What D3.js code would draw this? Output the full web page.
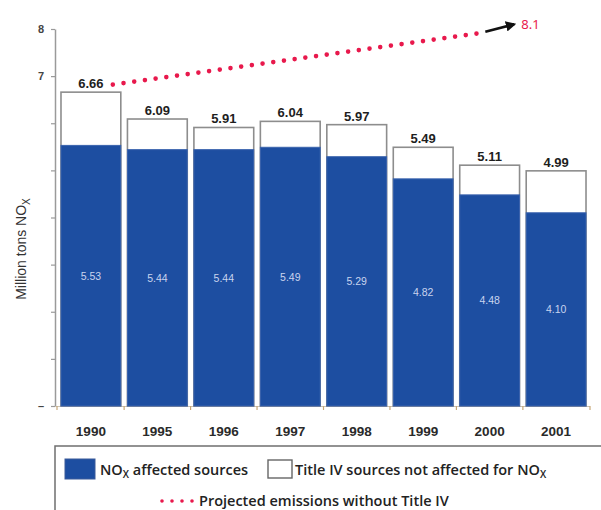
<!DOCTYPE html>
<html>
<head>
<meta charset="utf-8">
<script src="https://cdn.jsdelivr.net/npm/d3@7/dist/d3.min.js"></script>
<style>
  html, body { margin: 0; padding: 0; background: #fff; }
  svg { display: block; }
</style>
</head>
<body>
<svg id="chart" width="601" height="510"></svg>
<script>
// Title IV NOx emissions, million tons
const years = ["1990", "1995", "1996", "1997", "1998", "1999", "2000", "2001"];
const totals = [6.66, 6.09, 5.91, 6.04, 5.97, 5.49, 5.11, 4.99];
const affected = [5.53, 5.44, 5.44, 5.49, 5.29, 4.82, 4.48, 4.10];

// y-axis ticks and their labels (only some are labelled)
const yTickValues = [0, 1, 2, 3, 4, 5, 6, 7, 8];
const yTickLabels = ["–", "", "", "", "", "", "", "7", "8"];

// projected emissions without Title IV (position in years from 1990 bar centre, value)
const projPos = [0.33, 5.89];
const projVal = [6.82, 7.92];
const projEndPos = 6.37;
const projEndVal = 8.1;
const projEndLabel = "8.1";

const BLUE = "#1d4ea1";
const RED = "#e8194c";
const GREY = "#8d8d8d";

const svg = d3.select("#chart");

const x = d3.scaleBand().domain(years).range([57, 590]).paddingInner(0.1).paddingOuter(0.06);
const y = d3.scaleLinear().domain([0, 8]).range([406, 29]);
const xi = d3.scaleLinear().domain([0, years.length - 1])
  .range([x(years[0]) + x.bandwidth() / 2, x(years[years.length - 1]) + x.bandwidth() / 2]);

// y axis
const yAxis = svg.append("g").attr("transform", "translate(55,0)")
  .call(d3.axisLeft(y).tickValues(yTickValues).tickSize(4).tickSizeOuter(0)
    .tickFormat((d, i) => yTickLabels[i]));
yAxis.select(".domain").attr("stroke", "#9a9a9a").attr("stroke-width", 1.5);
yAxis.selectAll(".tick line").attr("stroke", "#9a9a9a").attr("stroke-width", 1.2);
yAxis.selectAll(".tick text")
  .attr("x", -11)
  .attr("fill", "#444")
  .style("font-family", "'Liberation Sans', Arial, sans-serif")
  .style("font-weight", "bold")
  .style("font-size", "11px");

// x baseline with ticks at band boundaries
const boundaries = [x.range()[0]].concat(years.slice(1).map(d => x(d) - x.step() * x.paddingInner() / 2)).concat([x.range()[1]]);
svg.append("line")
  .attr("x1", 55).attr("x2", 590)
  .attr("y1", y(0) + 0.5).attr("y2", y(0) + 0.5)
  .attr("stroke", "#c9c2b5").attr("stroke-width", 1);
svg.append("g").selectAll("line").data(boundaries).join("line")
  .attr("x1", d => d).attr("x2", d => d)
  .attr("y1", y(0)).attr("y2", y(0) + 4)
  .attr("stroke", "#c8a878").attr("stroke-width", 1.2);

// year labels
svg.append("g").selectAll("text").data(years).join("text")
  .attr("x", d => x(d) + x.bandwidth() / 2)
  .attr("y", 436)
  .attr("text-anchor", "middle")
  .attr("fill", "#2a2a2a")
  .style("font-family", "'Liberation Sans', Arial, sans-serif")
  .style("font-weight", "bold")
  .style("font-size", "13.5px")
  .text(d => d);

// bars: white upper part (total) then blue affected part
const bars = svg.append("g").selectAll("g").data(years).join("g");
bars.append("rect")
  .attr("x", d => x(d))
  .attr("y", (d, i) => y(totals[i]))
  .attr("width", x.bandwidth())
  .attr("height", (d, i) => y(0) - y(totals[i]))
  .attr("fill", "#fff")
  .attr("stroke", GREY)
  .attr("stroke-width", 1.6);
bars.append("rect")
  .attr("x", d => x(d))
  .attr("y", (d, i) => y(affected[i]))
  .attr("width", x.bandwidth())
  .attr("height", (d, i) => y(0) - y(affected[i]))
  .attr("fill", BLUE)
  .attr("stroke", "#3a63ad")
  .attr("stroke-width", 1);

// total labels above bars
bars.append("text")
  .attr("x", d => x(d) + x.bandwidth() / 2)
  .attr("y", (d, i) => y(totals[i]) - 4)
  .attr("text-anchor", "middle")
  .attr("fill", "#1e1e1e")
  .style("font-family", "'Liberation Sans', Arial, sans-serif")
  .style("font-weight", "bold")
  .style("font-size", "13px")
  .text((d, i) => totals[i].toFixed(2));

// affected values inside blue bars
bars.append("text")
  .attr("x", d => x(d) + x.bandwidth() / 2)
  .attr("y", (d, i) => (y(affected[i]) + y(0)) / 2 + 4)
  .attr("text-anchor", "middle")
  .attr("fill", "#c9d4ee")
  .style("font-family", "'Liberation Sans', Arial, sans-serif")
  .style("font-size", "10.5px")
  .text((d, i) => affected[i].toFixed(2));

// projected emissions: dotted line and arrow
const projPts = projPos.map((p, i) => [xi(p), y(projVal[i])]);
svg.append("path")
  .attr("d", d3.line()(projPts))
  .attr("fill", "none")
  .attr("stroke", RED)
  .attr("stroke-width", 4.6)
  .attr("stroke-linecap", "round")
  .attr("stroke-dasharray", "0 10.8");

const defs = svg.append("defs");
defs.append("marker")
  .attr("id", "arrowhead")
  .attr("viewBox", "0 0 10 10")
  .attr("refX", 8).attr("refY", 5)
  .attr("markerWidth", 4).attr("markerHeight", 4)
  .attr("orient", "auto")
  .append("path").attr("d", "M0,0 L10,5 L0,10 Z").attr("fill", "#111");

const last = projPts[projPts.length - 1];
svg.append("line")
  .attr("x1", last[0] + 3).attr("y1", last[1] - 1)
  .attr("x2", xi(projEndPos)).attr("y2", y(projEndVal))
  .attr("stroke", "#111")
  .attr("stroke-width", 2.6)
  .attr("marker-end", "url(#arrowhead)");

svg.append("text")
  .attr("x", xi(projEndPos) + 7)
  .attr("y", y(projEndVal) + 5)
  .attr("fill", RED)
  .style("font-family", "'Noto Sans', 'Open Sans', sans-serif")
  .style("font-size", "13px")
  .text(projEndLabel);

// y-axis title with subscript
const yTitle = svg.append("text")
  .attr("transform", "translate(26,249) rotate(-90)")
  .attr("text-anchor", "middle")
  .attr("fill", "#333")
  .style("font-family", "'Liberation Sans', Arial, sans-serif")
  .style("font-size", "14px");
yTitle.append("tspan").text("Million tons NO");
yTitle.append("tspan").attr("dy", 4).style("font-size", "10px").text("X");

// legend
const legendFont = "'Open Sans', 'Noto Sans', sans-serif";
const legendSize = "14.5px";
svg.append("rect")
  .attr("x", 55).attr("y", 446)
  .attr("width", 600).attr("height", 100)
  .attr("fill", "#fff")
  .attr("stroke", "#6f6f6f")
  .attr("stroke-width", 1.5);

svg.append("rect")
  .attr("x", 65).attr("y", 459).attr("width", 30).attr("height", 20)
  .attr("fill", BLUE).attr("stroke", "#3a5a9a").attr("stroke-width", 1);
const l1 = svg.append("text")
  .attr("x", 100).attr("y", 475)
  .attr("fill", "#222")
  .style("font-family", legendFont).style("font-weight", "600")
  .style("font-size", legendSize).style("letter-spacing", "0px");
l1.append("tspan").text("NO");
l1.append("tspan").attr("dy", 3).style("font-size", "10px").text("X");
l1.append("tspan").attr("dy", -3).text(" affected sources");

svg.append("rect")
  .attr("x", 268).attr("y", 460).attr("width", 24).attr("height", 18)
  .attr("fill", "#fff").attr("stroke", "#666").attr("stroke-width", 1.4);
const l2 = svg.append("text")
  .attr("x", 295).attr("y", 475)
  .attr("fill", "#222")
  .style("font-family", legendFont).style("font-weight", "600")
  .style("font-size", legendSize).style("letter-spacing", "0px");
l2.append("tspan").text("Title IV sources not affected for NO");
l2.append("tspan").attr("dy", 3).style("font-size", "10px").text("X");

svg.append("line")
  .attr("x1", 162).attr("x2", 194)
  .attr("y1", 501).attr("y2", 501)
  .attr("stroke", RED).attr("stroke-width", 3.6)
  .attr("stroke-linecap", "round").attr("stroke-dasharray", "0 10");
svg.append("text")
  .attr("x", 199).attr("y", 506)
  .attr("fill", "#222")
  .style("font-family", legendFont).style("font-weight", "600")
  .style("font-size", legendSize).style("letter-spacing", "0px")
  .text("Projected emissions without Title IV");
</script>
</body>
</html>
